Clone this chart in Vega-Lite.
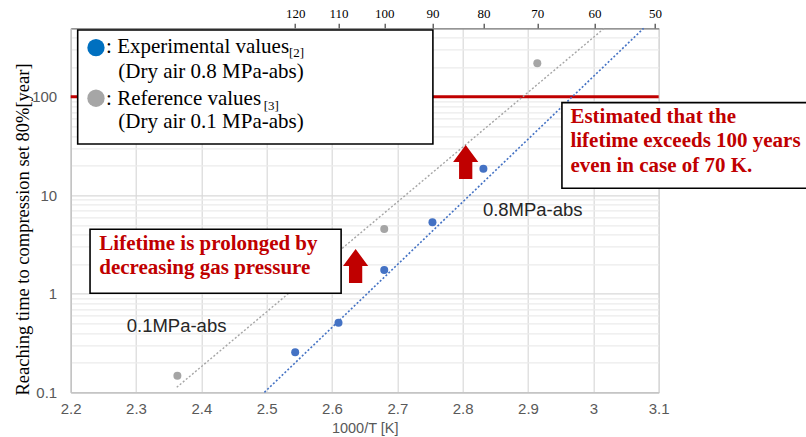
{
  "$schema": "https://vega.github.io/schema/vega-lite/v6.json",
  "width": 588,
  "height": 364,
  "autosize": {"type": "none"},
  "padding": {"left": 70.7, "top": 28.3, "right": 147.7, "bottom": 44.7},
  "background": "white",
  "config": {"view": {"stroke": "#bfbfbf", "strokeWidth": 1}},
  "datasets": {
    "exp": [
      {"x": 2.5436, "y": 0.2546},
      {"x": 2.6099, "y": 0.5085},
      {"x": 2.6799, "y": 1.743},
      {"x": 2.7537, "y": 5.314},
      {"x": 2.8317, "y": 18.59}
    ],
    "ref": [
      {"x": 2.3633, "y": 0.1474},
      {"x": 2.6799, "y": 4.544},
      {"x": 2.9142, "y": 218}
    ],
    "trend": [
      {"series": "exp", "x": 2.4965, "y": 0.1},
      {"series": "exp", "x": 3.0769, "y": 494},
      {"series": "ref", "x": 2.3623, "y": 0.1124},
      {"series": "ref", "x": 3.0167, "y": 494}
    ],
    "redline": [{"x": 2.2, "x2": 3.1, "y": 100}],
    "boxes": [
      {"x": 2.2107, "x2": 2.7544, "y": 475, "y2": 33.1},
      {"x": 2.2296, "x2": 2.6139, "y": 4.512, "y2": 1.011},
      {"x": 2.9519, "x2": 3.3306, "y": 86.96, "y2": 11.76}
    ],
    "legendDots": [
      {"series": "exp", "x": 2.2387, "y": 314.5},
      {"series": "ref", "x": 2.2387, "y": 96.4}
    ],
    "legendText": [
      {"x": 2.2542, "y": 275.9, "text": ": Experimental values"},
      {"x": 2.2729, "y": 153.8, "text": "(Dry air 0.8 MPa-abs)"},
      {"x": 2.2542, "y": 82.4, "text": ": Reference values"},
      {"x": 2.2729, "y": 47.8, "text": "(Dry air 0.1 MPa-abs)"}
    ],
    "legendSub": [
      {"x": 2.5342, "y": 252.9, "text": "[2]"},
      {"x": 2.4955, "y": 73.3, "text": "[3]"}
    ],
    "redText": [
      {"x": 2.2438, "y": 2.781, "text": "Lifetime is prolonged by"},
      {"x": 2.2438, "y": 1.587, "text": "decreasing gas pressure"},
      {"x": 2.9649, "y": 53.72, "text": "Estimated that the"},
      {"x": 2.9649, "y": 30.66, "text": "lifetime exceeds 100 years"},
      {"x": 2.9649, "y": 17.34, "text": "even in case of 70 K."}
    ],
    "seriesLabels": [
      {"x": 2.2858, "y": 0.412, "text": "0.1MPa-abs"},
      {"x": 2.8309, "y": 6.157, "text": "0.8MPa-abs"}
    ],
    "arrows": [
      {"x": 2.6361, "y": 1.913},
      {"x": 2.8046, "y": 21.75}
    ]
  },
  "layer": [
    {
      "data": {"name": "redline"},
      "mark": {"type": "rule", "color": "#C00000", "strokeWidth": 3},
      "encoding": {
        "x": {"field": "x", "type": "quantitative", "scale": {"domain": [2.2, 3.1], "nice": false, "zero": false}, "axis": null},
        "x2": {"field": "x2"},
        "y": {"field": "y", "type": "quantitative", "scale": {"type": "log", "domain": [0.1, 494], "nice": false}, "axis": null}
      }
    },
    {
      "data": {"name": "trend"},
      "transform": [{"filter": "datum.series == 'exp'"}],
      "mark": {"type": "line", "color": "#4472C4", "strokeWidth": 1.6, "strokeDash": [2, 2]},
      "encoding": {
        "x": {
          "field": "x", "type": "quantitative",
          "scale": {"domain": [2.2, 3.1], "nice": false, "zero": false},
          "axis": {
            "values": [2.2, 2.3, 2.4, 2.5, 2.6, 2.7, 2.8, 2.9, 3.0, 3.1],
            "format": "~g",
            "grid": true, "gridColor": "#d9d9d9", "gridWidth": 1.2,
            "ticks": false, "domainColor": "#bfbfbf", "domainWidth": 1.2,
            "labelColor": "#595959", "labelFont": "Liberation Sans", "labelFontSize": 15,
            "labelPadding": 9, "labelFlush": false,
            "title": "1000/T [K]", "titleFont": "Liberation Sans", "titleFontSize": 14.5,
            "titleFontWeight": "normal", "titleColor": "#595959", "titlePadding": 5
          }
        },
        "y": {
          "field": "y", "type": "quantitative",
          "scale": {"type": "log", "domain": [0.1, 494], "nice": false},
          "axis": {
            "values": [0.1, 0.2, 0.3, 0.4, 0.5, 0.6, 0.7, 0.8, 0.9, 1, 2, 3, 4, 5, 6, 7, 8, 9, 10, 20, 30, 40, 50, 60, 70, 80, 90, 100, 200, 300, 400],
            "format": "~g",
            "labelExpr": "abs(log(datum.value)/LN10 - round(log(datum.value)/LN10)) < 0.01 ? datum.label : ''",
            "grid": true,
            "gridColor": {"condition": {"test": "abs(log(datum.value)/LN10 - round(log(datum.value)/LN10)) < 0.01", "value": "#d9d9d9"}, "value": "#ebebeb"},
            "gridWidth": 1.2,
            "ticks": false, "domainColor": "#bfbfbf", "domainWidth": 1.2,
            "labelColor": "#595959", "labelFont": "Liberation Sans", "labelFontSize": 15, "labelPadding": 14,
            "title": "Reaching time to compression set 80%[year]",
            "titleFont": "Liberation Serif", "titleFontSize": 18.5, "titleFontWeight": "normal", "titleColor": "#000000",
            "titleAngle": 270, "titleAlign": "center", "titleBaseline": "alphabetic",
            "titleX": -42.4, "titleY": 200.7
          }
        }
      }
    },
    {
      "data": {"name": "trend"},
      "transform": [{"filter": "datum.series == 'ref'"}],
      "mark": {"type": "line", "color": "#A5A5A5", "strokeWidth": 1.4, "strokeDash": [2, 2]},
      "encoding": {
        "x": {"field": "x", "type": "quantitative", "scale": {"domain": [2.2, 3.1], "nice": false, "zero": false}, "axis": null},
        "y": {"field": "y", "type": "quantitative", "scale": {"type": "log", "domain": [0.1, 494], "nice": false}, "axis": null}
      }
    },
    {
      "data": {"name": "exp"},
      "mark": {"type": "circle", "color": "#4472C4", "size": 64, "opacity": 1},
      "encoding": {
        "x": {
          "field": "x", "type": "quantitative",
          "scale": {"domain": [2.2, 3.1], "nice": false, "zero": false},
          "axis": {
            "orient": "top",
            "values": [2.5436, 2.6099, 2.6799, 2.7537, 2.8317, 2.9142, 3.0017, 3.0945],
            "labelExpr": "format(1000/datum.value - 273.15, '.0f')",
            "grid": false, "ticks": true, "tickSize": 5, "tickColor": "#404040", "tickWidth": 1.2,
            "domainColor": "#808080", "domainWidth": 1.2,
            "labelColor": "#000000", "labelFont": "Liberation Serif", "labelFontSize": 13,
            "labelPadding": 3, "labelFlush": false, "title": null
          }
        },
        "y": {"field": "y", "type": "quantitative", "scale": {"type": "log", "domain": [0.1, 494], "nice": false}, "axis": null}
      }
    },
    {
      "data": {"name": "ref"},
      "mark": {"type": "circle", "color": "#A5A5A5", "size": 64, "opacity": 1},
      "encoding": {
        "x": {"field": "x", "type": "quantitative", "scale": {"domain": [2.2, 3.1], "nice": false, "zero": false}, "axis": null},
        "y": {"field": "y", "type": "quantitative", "scale": {"type": "log", "domain": [0.1, 494], "nice": false}, "axis": null}
      }
    },
    {
      "data": {"name": "boxes"},
      "mark": {"type": "rect", "fill": "#ffffff", "stroke": "#000000", "strokeWidth": 1.6},
      "encoding": {
        "x": {"field": "x", "type": "quantitative", "scale": {"domain": [2.2, 3.1], "nice": false, "zero": false}, "axis": null},
        "x2": {"field": "x2"},
        "y": {"field": "y", "type": "quantitative", "scale": {"type": "log", "domain": [0.1, 494], "nice": false}, "axis": null},
        "y2": {"field": "y2"}
      }
    },
    {
      "data": {"name": "legendDots"},
      "transform": [{"filter": "datum.series == 'exp'"}],
      "mark": {"type": "circle", "color": "#0070C0", "size": 300, "opacity": 1},
      "encoding": {
        "x": {"field": "x", "type": "quantitative", "scale": {"domain": [2.2, 3.1], "nice": false, "zero": false}, "axis": null},
        "y": {"field": "y", "type": "quantitative", "scale": {"type": "log", "domain": [0.1, 494], "nice": false}, "axis": null}
      }
    },
    {
      "data": {"name": "legendDots"},
      "transform": [{"filter": "datum.series == 'ref'"}],
      "mark": {"type": "circle", "color": "#A6A6A6", "size": 300, "opacity": 1},
      "encoding": {
        "x": {"field": "x", "type": "quantitative", "scale": {"domain": [2.2, 3.1], "nice": false, "zero": false}, "axis": null},
        "y": {"field": "y", "type": "quantitative", "scale": {"type": "log", "domain": [0.1, 494], "nice": false}, "axis": null}
      }
    },
    {
      "data": {"name": "legendText"},
      "mark": {"type": "text", "align": "left", "baseline": "alphabetic", "font": "Liberation Serif", "fontSize": 21, "color": "#000000"},
      "encoding": {
        "x": {"field": "x", "type": "quantitative", "scale": {"domain": [2.2, 3.1], "nice": false, "zero": false}, "axis": null},
        "y": {"field": "y", "type": "quantitative", "scale": {"type": "log", "domain": [0.1, 494], "nice": false}, "axis": null},
        "text": {"field": "text"}
      }
    },
    {
      "data": {"name": "legendSub"},
      "mark": {"type": "text", "align": "left", "baseline": "alphabetic", "font": "Liberation Serif", "fontSize": 13, "color": "#000000"},
      "encoding": {
        "x": {"field": "x", "type": "quantitative", "scale": {"domain": [2.2, 3.1], "nice": false, "zero": false}, "axis": null},
        "y": {"field": "y", "type": "quantitative", "scale": {"type": "log", "domain": [0.1, 494], "nice": false}, "axis": null},
        "text": {"field": "text"}
      }
    },
    {
      "data": {"name": "redText"},
      "mark": {"type": "text", "align": "left", "baseline": "alphabetic", "font": "Liberation Serif", "fontSize": 21, "fontWeight": "bold", "color": "#C00000"},
      "encoding": {
        "x": {"field": "x", "type": "quantitative", "scale": {"domain": [2.2, 3.1], "nice": false, "zero": false}, "axis": null},
        "y": {"field": "y", "type": "quantitative", "scale": {"type": "log", "domain": [0.1, 494], "nice": false}, "axis": null},
        "text": {"field": "text"}
      }
    },
    {
      "data": {"name": "seriesLabels"},
      "mark": {"type": "text", "align": "left", "baseline": "alphabetic", "font": "Liberation Sans", "fontSize": 18.5, "color": "#262626"},
      "encoding": {
        "x": {"field": "x", "type": "quantitative", "scale": {"domain": [2.2, 3.1], "nice": false, "zero": false}, "axis": null},
        "y": {"field": "y", "type": "quantitative", "scale": {"type": "log", "domain": [0.1, 494], "nice": false}, "axis": null},
        "text": {"field": "text"}
      }
    },
    {
      "data": {"name": "arrows"},
      "mark": {"type": "point", "shape": "M-0.39,1L0.39,1L0.39,0L0.74,0L0,-1L-0.74,0L-0.39,0Z", "size": 1156, "filled": true, "color": "#C00000", "opacity": 1, "strokeWidth": 0},
      "encoding": {
        "x": {"field": "x", "type": "quantitative", "scale": {"domain": [2.2, 3.1], "nice": false, "zero": false}, "axis": null},
        "y": {"field": "y", "type": "quantitative", "scale": {"type": "log", "domain": [0.1, 494], "nice": false}, "axis": null}
      }
    }
  ],
  "resolve": {"axis": {"x": "independent", "y": "independent"}}
}
